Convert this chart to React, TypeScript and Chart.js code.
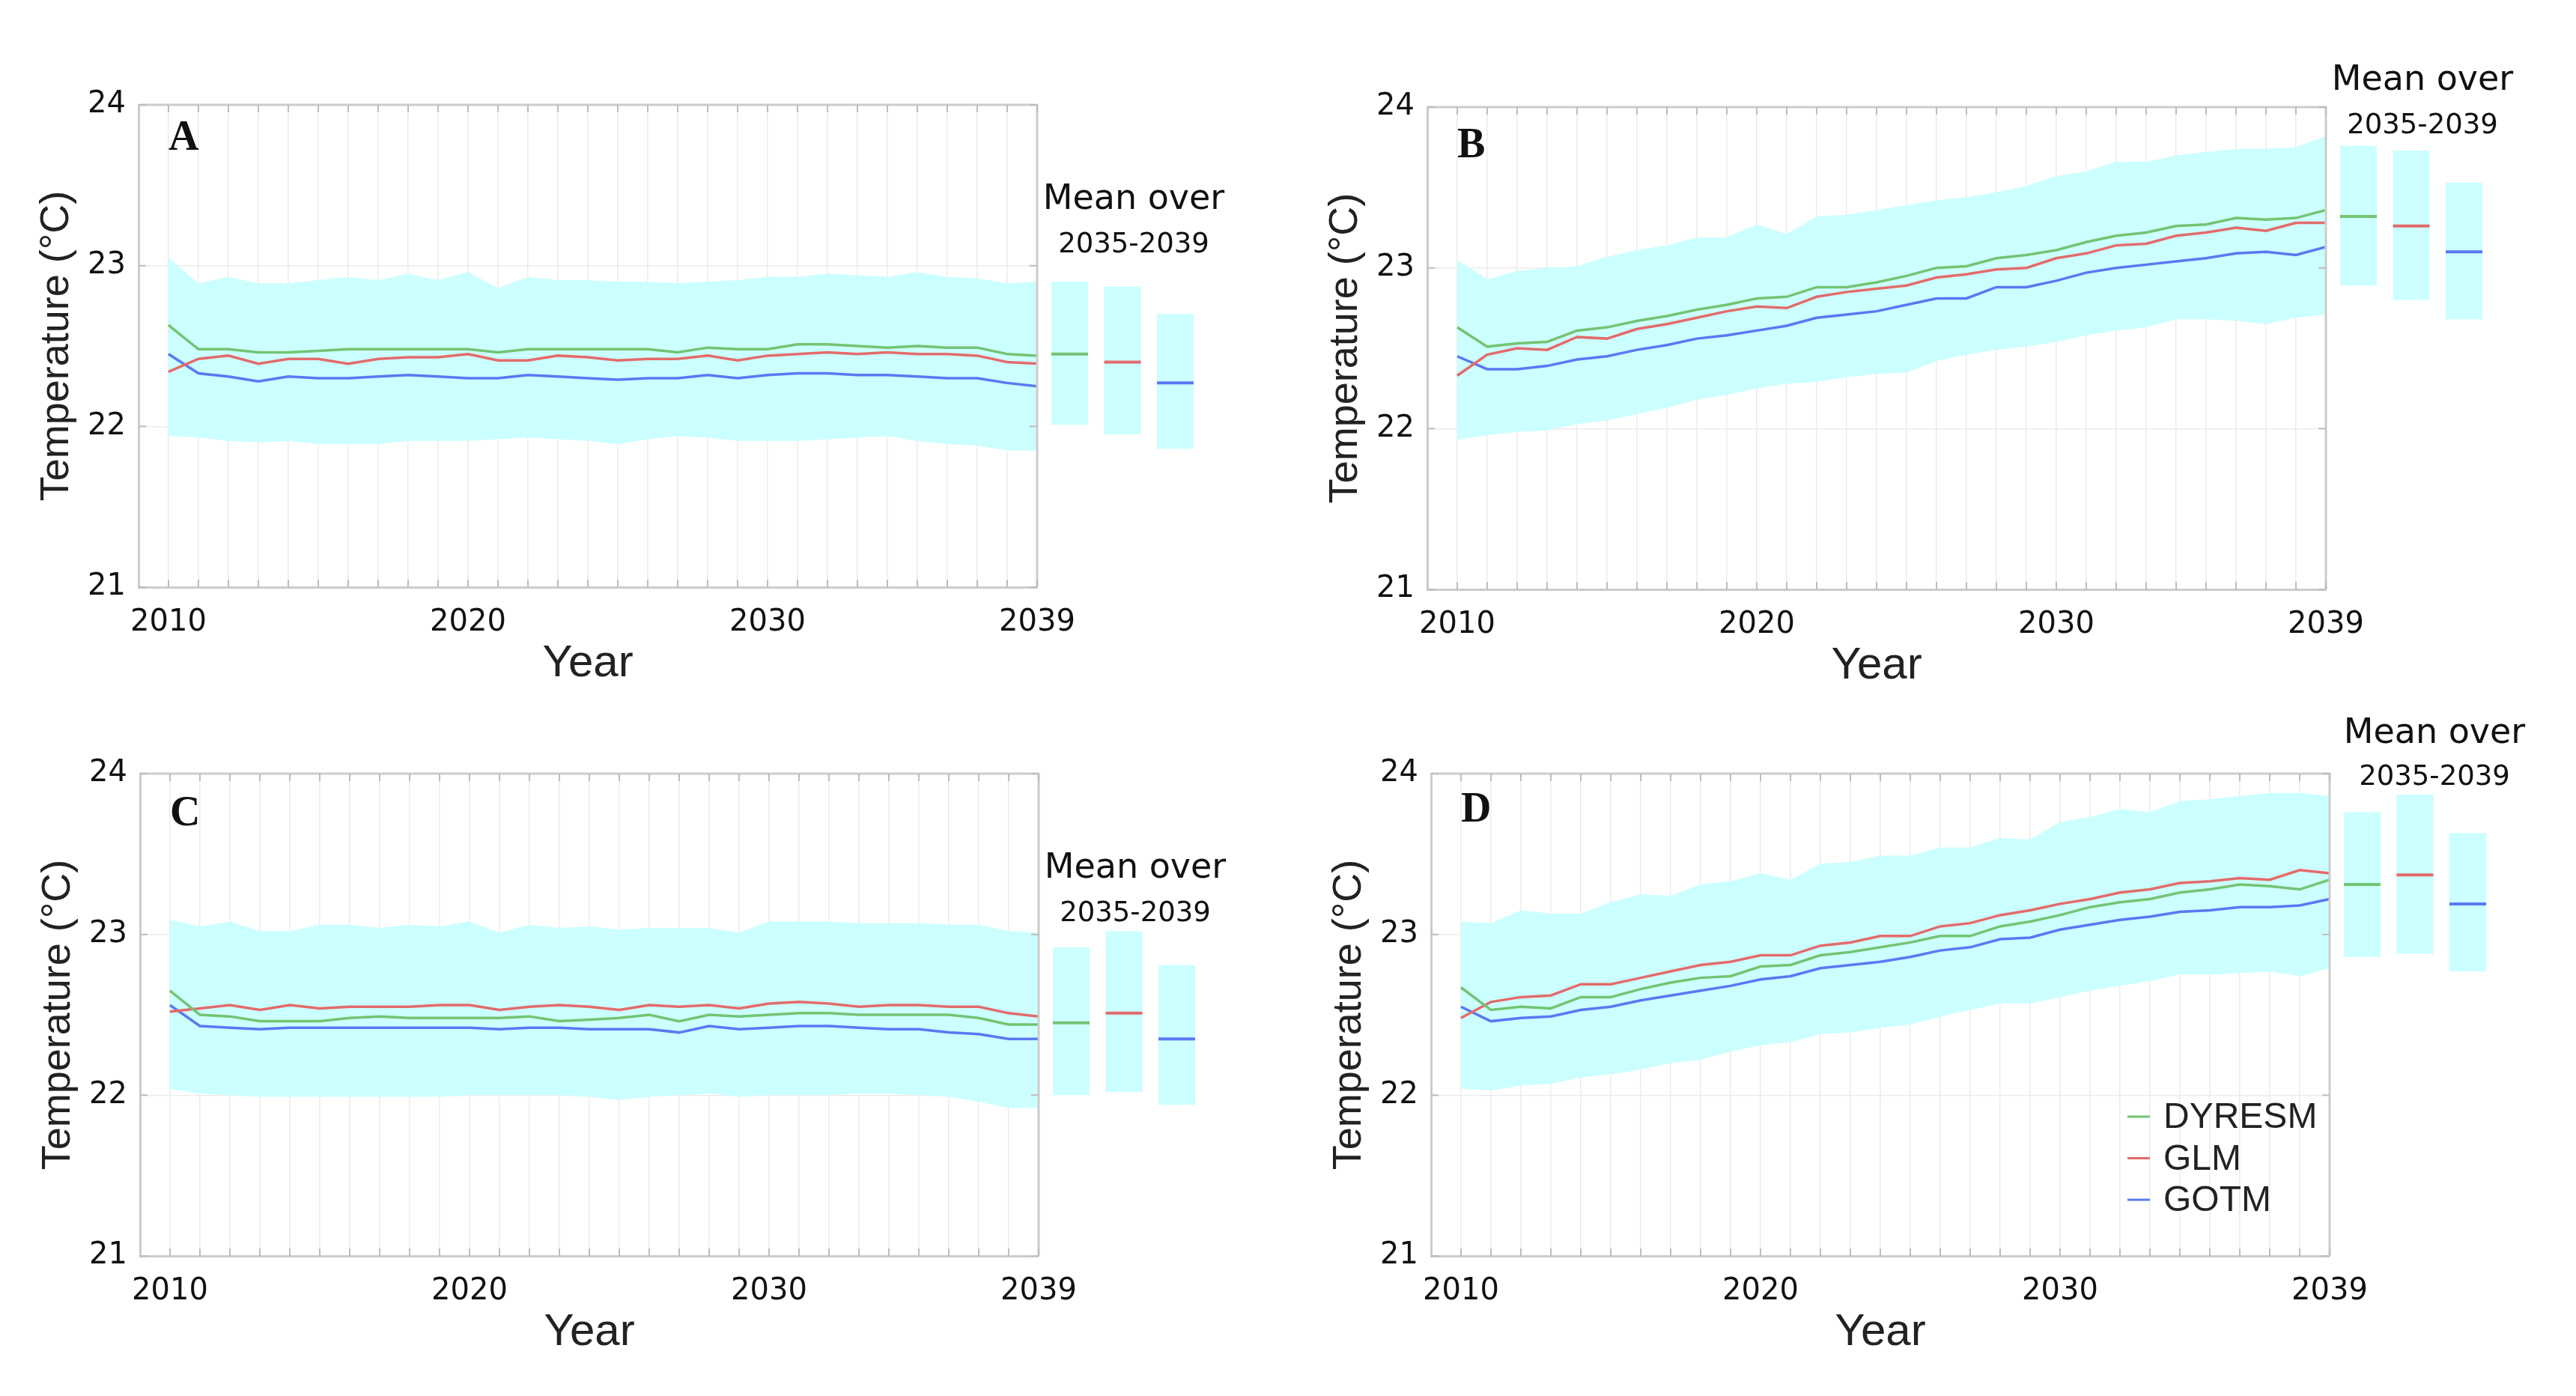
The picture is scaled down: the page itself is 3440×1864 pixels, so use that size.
import React, { useEffect, useRef } from 'react';
import { Chart, registerables } from 'chart.js';

Chart.register(...registerables);

// ---------- data ----------
const years = [
  2010, 2011, 2012, 2013, 2014, 2015, 2016, 2017, 2018, 2019,
  2020, 2021, 2022, 2023, 2024, 2025, 2026, 2027, 2028, 2029,
  2030, 2031, 2032, 2033, 2034, 2035, 2036, 2037, 2038, 2039,
];
const xTickLabels = [2010, 2020, 2030, 2039];
const yTicks = [21, 22, 23, 24];
const seriesNames = ['DYRESM', 'GLM', 'GOTM'];
const seriesColors = ['#73c473', '#e36b6b', '#5a78f2'];
const bandColor = '#ccffff';
const meanTitle = 'Mean over';
const meanPeriod = '2035-2039';

// Panel A
const aDyresm = [22.63, 22.48, 22.48, 22.46, 22.46, 22.47, 22.48, 22.48, 22.48, 22.48, 22.48, 22.46, 22.48, 22.48, 22.48, 22.48, 22.48, 22.46, 22.49, 22.48, 22.48, 22.51, 22.51, 22.50, 22.49, 22.50, 22.49, 22.49, 22.45, 22.44];
const aGlm = [22.34, 22.42, 22.44, 22.39, 22.42, 22.42, 22.39, 22.42, 22.43, 22.43, 22.45, 22.41, 22.41, 22.44, 22.43, 22.41, 22.42, 22.42, 22.44, 22.41, 22.44, 22.45, 22.46, 22.45, 22.46, 22.45, 22.45, 22.44, 22.40, 22.39];
const aGotm = [22.45, 22.33, 22.31, 22.28, 22.31, 22.30, 22.30, 22.31, 22.32, 22.31, 22.30, 22.30, 22.32, 22.31, 22.30, 22.29, 22.30, 22.30, 22.32, 22.30, 22.32, 22.33, 22.33, 22.32, 22.32, 22.31, 22.30, 22.30, 22.27, 22.25];
const aUpper = [23.05, 22.89, 22.93, 22.89, 22.89, 22.91, 22.93, 22.91, 22.95, 22.91, 22.96, 22.86, 22.93, 22.91, 22.91, 22.90, 22.90, 22.89, 22.90, 22.91, 22.93, 22.93, 22.95, 22.94, 22.93, 22.96, 22.93, 22.92, 22.89, 22.90];
const aLower = [21.94, 21.93, 21.91, 21.90, 21.91, 21.89, 21.89, 21.89, 21.91, 21.91, 21.91, 21.92, 21.93, 21.92, 21.91, 21.89, 21.92, 21.94, 21.93, 21.91, 21.91, 21.91, 21.92, 21.93, 21.94, 21.91, 21.89, 21.88, 21.85, 21.85];
const aMeanLow = [22.01, 21.95, 21.86];
const aMeanHigh = [22.90, 22.87, 22.70];
const aMeanValue = [22.45, 22.40, 22.27];

// Panel B
const bDyresm = [22.63, 22.51, 22.53, 22.54, 22.61, 22.63, 22.67, 22.70, 22.74, 22.77, 22.81, 22.82, 22.88, 22.88, 22.91, 22.95, 23.00, 23.01, 23.06, 23.08, 23.11, 23.16, 23.20, 23.22, 23.26, 23.27, 23.31, 23.30, 23.31, 23.36];
const bGlm = [22.33, 22.46, 22.50, 22.49, 22.57, 22.56, 22.62, 22.65, 22.69, 22.73, 22.76, 22.75, 22.82, 22.85, 22.87, 22.89, 22.94, 22.96, 22.99, 23.00, 23.06, 23.09, 23.14, 23.15, 23.20, 23.22, 23.25, 23.23, 23.28, 23.28];
const bGotm = [22.45, 22.37, 22.37, 22.39, 22.43, 22.45, 22.49, 22.52, 22.56, 22.58, 22.61, 22.64, 22.69, 22.71, 22.73, 22.77, 22.81, 22.81, 22.88, 22.88, 22.92, 22.97, 23.00, 23.02, 23.04, 23.06, 23.09, 23.10, 23.08, 23.13];
const bUpper = [23.05, 22.93, 22.98, 23.00, 23.01, 23.07, 23.11, 23.14, 23.19, 23.19, 23.27, 23.21, 23.32, 23.33, 23.36, 23.39, 23.42, 23.44, 23.47, 23.51, 23.57, 23.60, 23.66, 23.66, 23.70, 23.72, 23.74, 23.74, 23.75, 23.82];
const bLower = [21.93, 21.96, 21.98, 21.99, 22.03, 22.05, 22.09, 22.13, 22.18, 22.21, 22.25, 22.28, 22.29, 22.32, 22.34, 22.35, 22.42, 22.46, 22.49, 22.51, 22.54, 22.58, 22.61, 22.63, 22.68, 22.68, 22.67, 22.65, 22.69, 22.71];
const bMeanLow = [22.89, 22.80, 22.68];
const bMeanHigh = [23.76, 23.73, 23.53];
const bMeanValue = [23.32, 23.26, 23.10];

// Panel C
const cDyresm = [22.65, 22.50, 22.49, 22.46, 22.46, 22.46, 22.48, 22.49, 22.48, 22.48, 22.48, 22.48, 22.49, 22.46, 22.47, 22.48, 22.50, 22.46, 22.50, 22.49, 22.50, 22.51, 22.51, 22.50, 22.50, 22.50, 22.50, 22.48, 22.44, 22.44];
const cGlm = [22.52, 22.54, 22.56, 22.53, 22.56, 22.54, 22.55, 22.55, 22.55, 22.56, 22.56, 22.53, 22.55, 22.56, 22.55, 22.53, 22.56, 22.55, 22.56, 22.54, 22.57, 22.58, 22.57, 22.55, 22.56, 22.56, 22.55, 22.55, 22.51, 22.49];
const cGotm = [22.56, 22.43, 22.42, 22.41, 22.42, 22.42, 22.42, 22.42, 22.42, 22.42, 22.42, 22.41, 22.42, 22.42, 22.41, 22.41, 22.41, 22.39, 22.43, 22.41, 22.42, 22.43, 22.43, 22.42, 22.41, 22.41, 22.39, 22.38, 22.35, 22.35];
const cUpper = [23.09, 23.05, 23.08, 23.02, 23.02, 23.06, 23.06, 23.04, 23.06, 23.05, 23.08, 23.01, 23.06, 23.04, 23.05, 23.03, 23.04, 23.04, 23.04, 23.01, 23.08, 23.08, 23.08, 23.07, 23.07, 23.07, 23.06, 23.06, 23.02, 23.01];
const cLower = [22.04, 22.01, 22.00, 21.99, 21.99, 21.99, 21.99, 21.99, 21.99, 21.99, 22.00, 22.00, 22.00, 22.00, 21.99, 21.97, 21.99, 22.00, 22.01, 21.99, 22.00, 22.00, 22.00, 22.01, 22.01, 22.00, 21.99, 21.96, 21.92, 21.92];
const cMeanLow = [22.00, 22.02, 21.94];
const cMeanHigh = [22.92, 23.02, 22.81];
const cMeanValue = [22.45, 22.51, 22.35];

// Panel D
const dDyresm = [22.67, 22.53, 22.55, 22.54, 22.61, 22.61, 22.66, 22.70, 22.73, 22.74, 22.80, 22.81, 22.87, 22.89, 22.92, 22.95, 22.99, 22.99, 23.05, 23.08, 23.12, 23.17, 23.20, 23.22, 23.26, 23.28, 23.31, 23.30, 23.28, 23.34];
const dGlm = [22.48, 22.58, 22.61, 22.62, 22.69, 22.69, 22.73, 22.77, 22.81, 22.83, 22.87, 22.87, 22.93, 22.95, 22.99, 22.99, 23.05, 23.07, 23.12, 23.15, 23.19, 23.22, 23.26, 23.28, 23.32, 23.33, 23.35, 23.34, 23.40, 23.38];
const dGotm = [22.55, 22.46, 22.48, 22.49, 22.53, 22.55, 22.59, 22.62, 22.65, 22.68, 22.72, 22.74, 22.79, 22.81, 22.83, 22.86, 22.90, 22.92, 22.97, 22.98, 23.03, 23.06, 23.09, 23.11, 23.14, 23.15, 23.17, 23.17, 23.18, 23.22];
const dUpper = [23.08, 23.07, 23.15, 23.13, 23.13, 23.20, 23.25, 23.24, 23.31, 23.33, 23.38, 23.34, 23.44, 23.45, 23.49, 23.49, 23.54, 23.54, 23.60, 23.59, 23.70, 23.73, 23.78, 23.76, 23.83, 23.84, 23.86, 23.88, 23.88, 23.86];
const dLower = [22.04, 22.03, 22.06, 22.07, 22.11, 22.13, 22.16, 22.20, 22.22, 22.27, 22.31, 22.33, 22.38, 22.39, 22.42, 22.44, 22.49, 22.53, 22.57, 22.57, 22.61, 22.65, 22.68, 22.71, 22.75, 22.75, 22.76, 22.77, 22.74, 22.79];
const dMeanLow = [22.86, 22.88, 22.77];
const dMeanHigh = [23.76, 23.87, 23.63];
const dMeanValue = [23.31, 23.37, 23.19];

// ---------- layout ----------
const CW = 1720;
const CH = 932;
const PAD_TOP = 140;
const Y_W = 185;
const PAD_RIGHT = 335;
const X_H = 148;

type PanelCfg = {
  letter: string;
  left: number;
  top: number;
  series: number[][];
  upper: number[];
  lower: number[];
  meanLow: number[];
  meanHigh: number[];
  meanValue: number[];
  letterDy: number;
  meanCx: number;
  meanY1: number;
  meanY2: number;
  legend: boolean;
};

const panels: PanelCfg[] = [
  { letter: 'A', left: 0, top: 0, series: [aDyresm, aGlm, aGotm], upper: aUpper, lower: aLower, meanLow: aMeanLow, meanHigh: aMeanHigh, meanValue: aMeanValue, letterDy: 46, meanCx: 129, meanY1: 127, meanY2: 187, legend: false },
  { letter: 'B', left: 1721, top: 3, series: [bDyresm, bGlm, bGotm], upper: bUpper, lower: bLower, meanLow: bMeanLow, meanHigh: bMeanHigh, meanValue: bMeanValue, letterDy: 53, meanCx: 129, meanY1: -35, meanY2: 25, legend: false },
  { letter: 'C', left: 2, top: 893, series: [cDyresm, cGlm, cGotm], upper: cUpper, lower: cLower, meanLow: cMeanLow, meanHigh: cMeanHigh, meanValue: cMeanValue, letterDy: 55, meanCx: 129, meanY1: 127, meanY2: 187, legend: false },
  { letter: 'D', left: 1726, top: 893, series: [dDyresm, dGlm, dGotm], upper: dUpper, lower: dLower, meanLow: dMeanLow, meanHigh: dMeanHigh, meanValue: dMeanValue, letterDy: 50, meanCx: 140, meanY1: -53, meanY2: 5, legend: true },
];

const BOX_OFFSETS = [19, 89.5, 160];
const BOX_W = 49;

function toPoints(vals: number[]) {
  return years.map((yr, i) => ({ x: yr, y: vals[i] }));
}

function makeOverlay(p: PanelCfg) {
  return {
    id: 'overlay' + p.letter,
    afterDraw(chart: any) {
      const { ctx, chartArea } = chart;
      const { left, right, top, bottom } = chartArea;
      const xs = chart.scales.x;
      const ys = chart.scales.y;
      ctx.save();

      // frame (top & right)
      ctx.strokeStyle = '#cccccc';
      ctx.lineWidth = 3;
      ctx.beginPath();
      ctx.moveTo(left, top);
      ctx.lineTo(right, top);
      ctx.lineTo(right, bottom);
      ctx.stroke();

      // inner tick marks
      ctx.strokeStyle = '#bdbdbd';
      ctx.lineWidth = 2;
      ctx.beginPath();
      years.forEach((yr) => {
        const px = xs.getPixelForValue(yr);
        ctx.moveTo(px, top);
        ctx.lineTo(px, top + 10);
        ctx.moveTo(px, bottom);
        ctx.lineTo(px, bottom - 10);
      });
      yTicks.forEach((v) => {
        const py = ys.getPixelForValue(v);
        ctx.moveTo(left, py);
        ctx.lineTo(left + 10, py);
        ctx.moveTo(right, py);
        ctx.lineTo(right - 10, py);
      });
      ctx.stroke();

      // panel letter
      ctx.fillStyle = '#111';
      ctx.font = 'bold 56px "Liberation Serif"';
      ctx.textAlign = 'left';
      ctx.textBaseline = 'middle';
      ctx.fillText(p.letter, xs.getPixelForValue(years[0]), top + p.letterDy);

      // mean boxes
      for (let i = 0; i < 3; i++) {
        const x0 = right + BOX_OFFSETS[i];
        const yTop = ys.getPixelForValue(p.meanHigh[i]);
        const yBot = ys.getPixelForValue(p.meanLow[i]);
        ctx.fillStyle = bandColor;
        ctx.fillRect(x0, yTop, BOX_W, yBot - yTop);
        const ym = ys.getPixelForValue(p.meanValue[i]);
        ctx.strokeStyle = chart.data.datasets[i].borderColor;
        ctx.lineWidth = 4;
        ctx.beginPath();
        ctx.moveTo(x0, ym);
        ctx.lineTo(x0 + BOX_W, ym);
        ctx.stroke();
      }

      // mean caption
      ctx.fillStyle = '#111';
      ctx.textAlign = 'center';
      ctx.textBaseline = 'middle';
      ctx.font = '46px "DejaVu Sans"';
      ctx.fillText(meanTitle, right + p.meanCx, top + p.meanY1);
      ctx.font = '37px "DejaVu Sans"';
      ctx.fillText(meanPeriod, right + p.meanCx, top + p.meanY2);

      // legend
      if (p.legend) {
        ctx.font = '48px "Liberation Sans"';
        ctx.textAlign = 'left';
        for (let i = 0; i < 3; i++) {
          const ds = chart.data.datasets[i];
          const yy = bottom - 186 + i * 55.5;
          ctx.strokeStyle = ds.borderColor;
          ctx.lineWidth = 3;
          ctx.beginPath();
          ctx.moveTo(right - 270, yy);
          ctx.lineTo(right - 240, yy);
          ctx.stroke();
          ctx.fillStyle = '#222';
          ctx.fillText(ds.label, right - 222, yy + 2);
        }
      }
      ctx.restore();
    },
  };
}

function Panel({ p }: { p: PanelCfg }) {
  const ref = useRef<HTMLCanvasElement>(null);
  useEffect(() => {
    const canvas = ref.current;
    if (!canvas) return;
    const datasets: any[] = seriesNames.map((name, i) => ({
      label: name,
      data: toPoints(p.series[i]),
      borderColor: seriesColors[i],
      borderWidth: 3.5,
      pointRadius: 0,
      fill: false,
      tension: 0,
      order: 0,
    }));
    datasets.push({
      label: 'upper',
      data: toPoints(p.upper),
      borderWidth: 0,
      borderColor: bandColor,
      backgroundColor: bandColor,
      pointRadius: 0,
      fill: '+1',
      tension: 0,
      order: 5,
    });
    datasets.push({
      label: 'lower',
      data: toPoints(p.lower),
      borderWidth: 0,
      borderColor: bandColor,
      backgroundColor: bandColor,
      pointRadius: 0,
      fill: false,
      tension: 0,
      order: 6,
    });

    const chart = new Chart(canvas, {
      type: 'line',
      data: { datasets },
      options: {
        animation: false,
        responsive: false,
        devicePixelRatio: 1,
        events: [],
        layout: { padding: { left: 0, top: PAD_TOP, right: PAD_RIGHT, bottom: 0 } },
        plugins: {
          legend: { display: false },
          tooltip: { enabled: false },
        },
        scales: {
          x: {
            type: 'linear',
            min: 2009,
            max: 2039,
            afterBuildTicks: (s: any) => {
              s.ticks = years.map((v) => ({ value: v }));
            },
            afterFit: (s: any) => {
              s.height = X_H;
            },
            ticks: {
              autoSkip: false,
              maxRotation: 0,
              padding: 24,
              color: '#111',
              font: { family: 'DejaVu Sans', size: 40 },
              callback: (v: any) => (xTickLabels.includes(Number(v)) ? String(v) : ''),
            },
            grid: { color: '#ececec', lineWidth: 1.5, drawTicks: false },
            border: { display: true, color: '#cccccc', width: 3 },
            title: {
              display: true,
              text: 'Year',
              color: '#222',
              font: { family: 'Liberation Sans', size: 60 },
              padding: { top: 0, bottom: 10 },
            },
          },
          y: {
            type: 'linear',
            min: 21,
            max: 24,
            afterBuildTicks: (s: any) => {
              s.ticks = yTicks.map((v) => ({ value: v }));
            },
            afterFit: (s: any) => {
              s.width = Y_W;
            },
            ticks: {
              padding: 17,
              color: '#111',
              font: { family: 'DejaVu Sans', size: 40 },
            },
            grid: { color: '#ececec', lineWidth: 1.5, drawTicks: false },
            border: { display: true, color: '#cccccc', width: 3 },
            title: {
              display: true,
              text: 'Temperature (°C)',
              color: '#222',
              font: { family: 'Liberation Sans', size: 54 },
              padding: { top: 44, bottom: 0 },
            },
          },
        },
      } as any,
      plugins: [makeOverlay(p)],
    });
    return () => chart.destroy();
  }, [p]);

  return (
    <canvas
      ref={ref}
      width={CW}
      height={CH}
      style={{ position: 'absolute', left: p.left, top: p.top, width: CW, height: CH }}
    />
  );
}

export default function App() {
  return (
    <div
      style={{
        position: 'fixed',
        left: 0,
        top: 0,
        width: 3440,
        height: 1864,
        overflow: 'hidden',
        background: '#ffffff',
      }}
    >
      {panels.map((p) => (
        <Panel key={p.letter} p={p} />
      ))}
    </div>
  );
}
